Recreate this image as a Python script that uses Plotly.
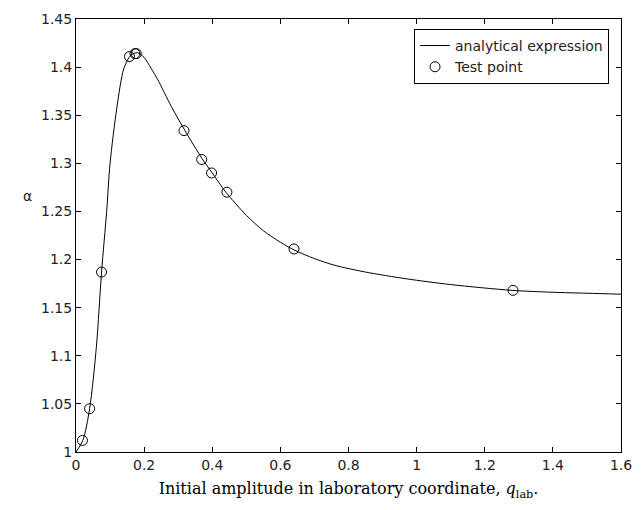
import plotly.graph_objects as go

# Analytical expression curve
curve_x = [0, 0.02, 0.04, 0.06, 0.075, 0.09, 0.10, 0.12, 0.14, 0.16, 0.18, 0.20, 0.22, 0.24,
           0.28, 0.32, 0.37, 0.40, 0.44, 0.50, 0.55, 0.60, 0.64, 0.70, 0.76, 0.85, 0.97, 1.1,
           1.28, 1.4, 1.5, 1.6]
curve_y = [1.0, 1.012, 1.045, 1.11, 1.187, 1.25, 1.30, 1.358, 1.398, 1.412, 1.415, 1.41, 1.399,
           1.387, 1.359, 1.334, 1.305, 1.29, 1.27, 1.246, 1.23, 1.218, 1.21, 1.201, 1.194, 1.187,
           1.180, 1.174, 1.168, 1.166, 1.165, 1.164]

# Test points
test_x = [0.019, 0.040, 0.075, 0.157, 0.173, 0.177, 0.317, 0.369, 0.398, 0.443, 0.64, 1.283]
test_y = [1.012, 1.045, 1.187, 1.411, 1.414, 1.414, 1.334, 1.304, 1.290, 1.270, 1.211, 1.168]

x_ticks = [0, 0.2, 0.4, 0.6, 0.8, 1, 1.2, 1.4, 1.6]
x_tick_labels = ["0", "0.2", "0.4", "0.6", "0.8", "1", "1.2", "1.4", "1.6"]
y_ticks = [1, 1.05, 1.1, 1.15, 1.2, 1.25, 1.3, 1.35, 1.4, 1.45]
y_tick_labels = ["1", "1.05", "1.1", "1.15", "1.2", "1.25", "1.3", "1.35", "1.4", "1.45"]

SANS = "DejaVu Sans, Arial"
SERIF = "DejaVu Serif, Times New Roman"

fig = go.Figure()
fig.add_trace(go.Scatter(
    x=curve_x, y=curve_y, mode="lines", name="analytical expression",
    line=dict(color="black", width=1, shape="spline", smoothing=0.8),
))
fig.add_trace(go.Scatter(
    x=test_x, y=test_y, mode="markers", name="Test point",
    marker=dict(symbol="circle-open", size=10, color="black", line=dict(width=1, color="black")),
))

axis_common = dict(
    showgrid=False, zeroline=False, showline=True, linecolor="black", linewidth=1,
    mirror="ticks", ticks="inside", ticklen=5, tickcolor="black",
    tickfont=dict(family=SANS, size=14, color="#222222"),
)

fig.update_layout(
    width=643, height=510,
    margin=dict(l=76, r=11, t=14, b=58),
    paper_bgcolor="white", plot_bgcolor="white",
    showlegend=True,
    legend=dict(
        x=0.978, y=0.977, xanchor="right", yanchor="top",
        bgcolor="white", bordercolor="black", borderwidth=1,
        font=dict(family=SANS, size=14, color="#222222"),
        tracegroupgap=0, itemwidth=30,
    ),
    xaxis=dict(range=[0, 1.6], tickvals=x_ticks, ticktext=x_tick_labels,
               title=dict(text="Initial amplitude in laboratory coordinate, <i>q</i><sub>lab</sub>.",
                          font=dict(family=SERIF, size=16, color="black"),
                          standoff=11),
               **axis_common),
    yaxis=dict(range=[1, 1.45], tickvals=y_ticks, ticktext=y_tick_labels, **axis_common),
    annotations=[dict(text="α", x=-0.1007, y=0.591, xref="paper", yref="paper",
                      showarrow=False, font=dict(family=SANS, size=14, color="#222222"))],
)

fig.write_html("out.html")
